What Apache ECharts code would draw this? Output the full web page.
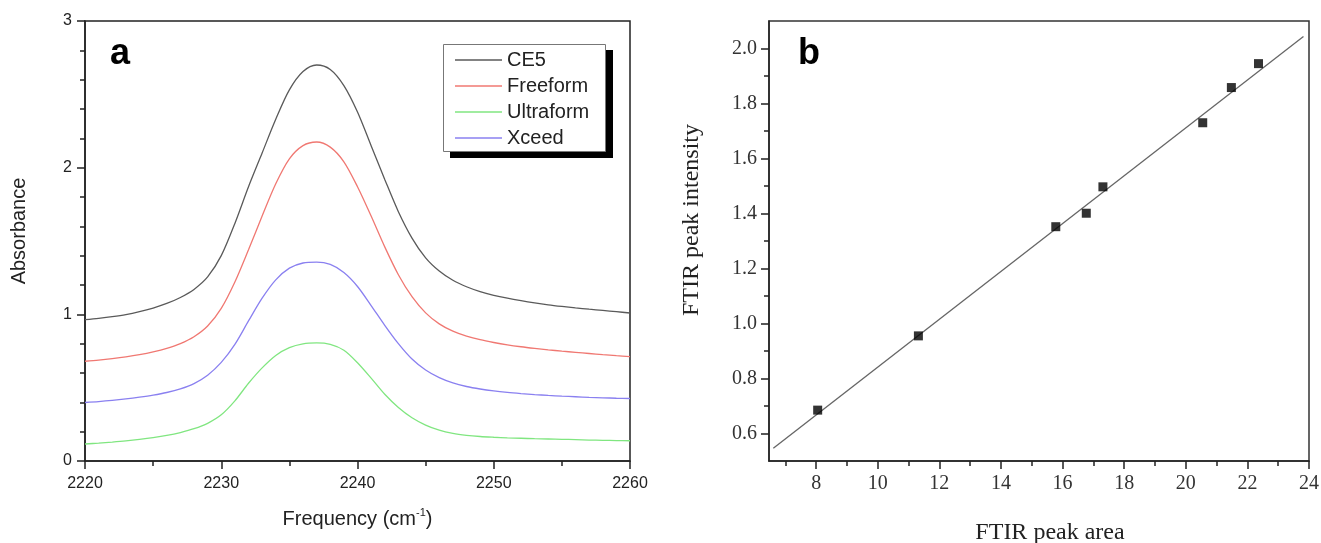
<!DOCTYPE html>
<html>
<head>
<meta charset="utf-8">
<script src="https://cdn.jsdelivr.net/npm/echarts@6/dist/echarts.min.js"></script>
<style>
html,body{margin:0;padding:0;background:#fff;}
#chart{width:1321px;height:543px;}
</style>
</head>
<body>
<div id="chart"></div>
<script>
// ---- Panel a: FTIR spectra ----
const freq = [2220,2221,2222,2223,2224,2225,2226,2227,2228,2229,2230,2231,2232,2233,2234,2235,2236,2237,2238,2239,2240,2241,2242,2243,2244,2245,2246,2247,2248,2249,2250,2251,2252,2253,2254,2255,2256,2257,2258,2259,2260];
const ce5 = [0.964,0.973,0.984,0.998,1.018,1.043,1.074,1.115,1.17,1.255,1.40,1.62,1.87,2.10,2.33,2.53,2.655,2.70,2.67,2.56,2.38,2.15,1.92,1.70,1.52,1.385,1.295,1.232,1.188,1.155,1.13,1.11,1.093,1.078,1.065,1.054,1.044,1.035,1.027,1.018,1.009];
const freeform = [0.680,0.688,0.698,0.710,0.725,0.744,0.768,0.800,0.847,0.920,1.04,1.22,1.44,1.67,1.89,2.06,2.15,2.175,2.14,2.04,1.87,1.67,1.46,1.27,1.12,1.01,0.935,0.885,0.852,0.827,0.808,0.792,0.779,0.768,0.758,0.749,0.741,0.733,0.725,0.718,0.712];
const ultraform = [0.116,0.122,0.129,0.137,0.147,0.159,0.174,0.194,0.220,0.257,0.315,0.41,0.53,0.635,0.72,0.773,0.799,0.805,0.795,0.755,0.670,0.565,0.455,0.365,0.295,0.245,0.210,0.188,0.175,0.167,0.162,0.158,0.155,0.152,0.150,0.148,0.146,0.143,0.141,0.139,0.138];
const xceed = [0.399,0.405,0.413,0.423,0.435,0.449,0.467,0.492,0.528,0.585,0.672,0.795,0.955,1.11,1.235,1.315,1.35,1.356,1.34,1.285,1.19,1.06,0.925,0.80,0.695,0.62,0.568,0.532,0.508,0.491,0.478,0.468,0.460,0.453,0.447,0.442,0.438,0.434,0.431,0.428,0.426];
const seriesNames = ['CE5','Freeform','Ultraform','Xceed'];

// ---- Panel b: peak area vs intensity ----
const peakArea = [8.05,11.32,15.78,16.77,17.31,20.55,21.48,22.36];
const peakIntensity = [0.685,0.955,1.352,1.401,1.497,1.730,1.858,1.945];
const fitArea = [6.61,23.82];
const fitIntensity = [0.546,2.044];
const bXTicks = [8,10,12,14,16,18,20,22,24];
const bXMinor = [7,9,11,13,15,17,19,21,23];
const bYTicks = [0.6,0.8,1.0,1.2,1.4,1.6,1.8,2.0];
const bYMinor = [0.7,0.9,1.1,1.3,1.5,1.7,1.9];

const zip = (a,b) => a.map((v,i)=>[v,b[i]]);
const SANS = 'Liberation Sans';
const SERIF = 'Liberation Serif';
const ink = '#222';

const chart = echarts.init(document.getElementById('chart'), null, {renderer:'canvas'});

const lineSeries = (name, data, color) => ({
  name, type:'line', xAxisIndex:0, yAxisIndex:0, data: zip(freq, data),
  symbol:'none', smooth:0.3, lineStyle:{color, width:1.3}, itemStyle:{color}, z:3
});

const option = {
  animation:false,
  backgroundColor:'#fff',
  grid:[
    {left:85, top:21, width:545, height:440, show:true, borderColor:ink, borderWidth:1.5, backgroundColor:'transparent', outerBoundsMode:'none', containLabel:false},
    {left:769, top:21, width:540, height:440, show:true, borderColor:'#333', borderWidth:1.5, backgroundColor:'transparent', outerBoundsMode:'none', containLabel:false}
  ],
  graphic:[
    {type:'text', left:110, top:36, style:{text:'a', font:'bold 36px "Liberation Sans"', fill:'#000'}},
    {type:'text', left:798, top:36, style:{text:'b', font:'bold 36px "Liberation Sans"', fill:'#000'}},
    {type:'rect', z:5, shape:{x:450, y:50, width:163, height:108}, style:{fill:'#000'}},
    {type:'rect', z:6, shape:{x:443.5, y:44.5, width:162, height:107}, style:{fill:'#fff', stroke:'#777', lineWidth:1}}
  ],
  legend:{
    data:seriesNames, orient:'vertical', left:443, top:44, z:10,
    padding:[6,14,5,12], itemGap:6, itemWidth:47, itemHeight:1.5, icon:'rect',
    textStyle:{fontFamily:SANS, fontSize:20, color:ink, lineHeight:20}
  },
  xAxis:[
    {gridIndex:0, type:'value', min:2220, max:2260, interval:10,
     axisLine:{onZero:false, lineStyle:{color:ink, width:1.5}},
     axisTick:{length:8, lineStyle:{color:ink, width:1.5}},
     minorTick:{show:true, splitNumber:2, length:5, lineStyle:{color:ink, width:1.5}},
     splitLine:{show:false},
     axisLabel:{fontFamily:SANS, fontSize:16, color:ink, margin:15, formatter:v=>String(v)},
     name:'{a|Frequency (cm}{s|-1}{a|)}', nameLocation:'middle', nameGap:46,
     nameTextStyle:{rich:{a:{fontFamily:SANS, fontSize:20, color:ink, lineHeight:24}, s:{fontFamily:SANS, fontSize:11, color:ink, verticalAlign:'top', lineHeight:24}}}
    },
    {gridIndex:1, type:'value', min:6.47, max:24, position:'bottom',
     axisLine:{onZero:false, lineStyle:{color:'#222', width:1.5}},
     axisTick:{length:8, customValues:bXTicks, lineStyle:{color:'#222', width:1.5}},
     splitLine:{show:false},
     axisLabel:{customValues:bXTicks, fontFamily:SERIF, fontSize:20, color:'#333', margin:13},
     name:'FTIR peak area', nameLocation:'middle', nameGap:60,
     nameTextStyle:{fontFamily:SERIF, fontSize:24, color:'#222', padding:[0,0,0,22]}
    },
    {gridIndex:1, type:'value', min:6.47, max:24, position:'bottom',
     axisLine:{show:false}, axisLabel:{show:false}, splitLine:{show:false},
     axisTick:{length:5, customValues:bXMinor, lineStyle:{color:'#222', width:1.5}}
    }
  ],
  yAxis:[
    {gridIndex:0, type:'value', min:0, max:3, interval:1,
     axisLine:{onZero:false, lineStyle:{color:ink, width:1.5}},
     axisTick:{length:8, lineStyle:{color:ink, width:1.5}},
     minorTick:{show:true, splitNumber:5, length:5, lineStyle:{color:ink, width:1.5}},
     splitLine:{show:false},
     axisLabel:{fontFamily:SANS, fontSize:16, color:ink, margin:13},
     name:'Absorbance', nameLocation:'middle', nameGap:56,
     nameTextStyle:{fontFamily:SANS, fontSize:20, color:ink, padding:[0,0,0,20]}
    },
    {gridIndex:1, type:'value', min:0.5, max:2.1, position:'left',
     axisLine:{onZero:false, lineStyle:{color:'#222', width:1.5}},
     axisTick:{length:8, customValues:bYTicks, lineStyle:{color:'#222', width:1.5}},
     splitLine:{show:false},
     axisLabel:{customValues:bYTicks, fontFamily:SERIF, fontSize:20, color:'#333', margin:12, formatter:v=>Number(v).toFixed(1)},
     name:'FTIR peak intensity', nameLocation:'middle', nameGap:65,
     nameTextStyle:{fontFamily:SERIF, fontSize:24, color:'#222', padding:[0,0,0,42]}
    },
    {gridIndex:1, type:'value', min:0.5, max:2.1, position:'left',
     axisLine:{show:false}, axisLabel:{show:false}, splitLine:{show:false},
     axisTick:{length:5, customValues:bYMinor, lineStyle:{color:'#222', width:1.5}}
    }
  ],
  series:[
    lineSeries('CE5', ce5, '#5a5a5a'),
    lineSeries('Freeform', freeform, '#f07872'),
    lineSeries('Ultraform', ultraform, '#80e680'),
    lineSeries('Xceed', xceed, '#8a80f0'),
    {name:'fit', type:'line', xAxisIndex:1, yAxisIndex:1, data:zip(fitArea, fitIntensity),
     symbol:'none', lineStyle:{color:'#666', width:1.3}, z:2},
    {name:'points', type:'scatter', xAxisIndex:1, yAxisIndex:1, data:zip(peakArea, peakIntensity),
     symbol:'rect', symbolSize:9, itemStyle:{color:'#000'}, z:4}
  ]
};
chart.setOption(option);
</script>
</body>
</html>
